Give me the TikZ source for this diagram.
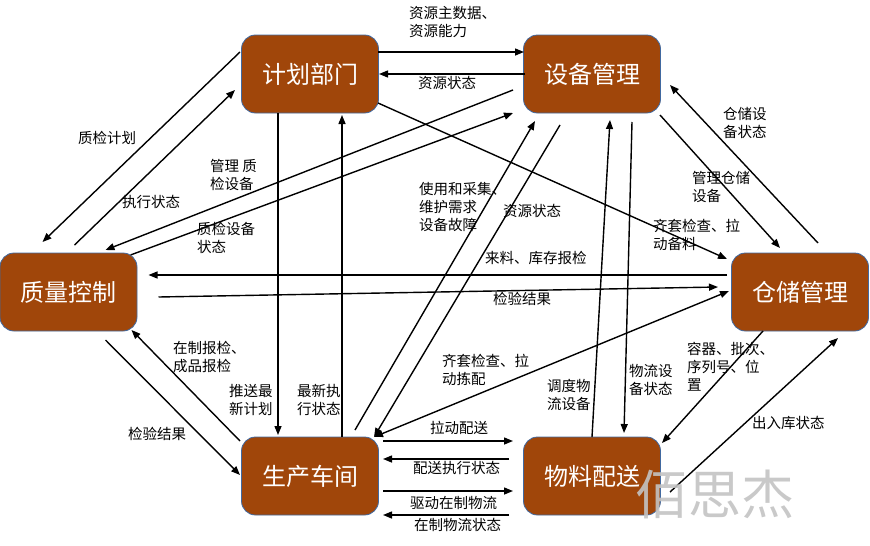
\documentclass[tikz,border=0pt]{standalone}
\usepackage{fontspec}
\setmainfont{Noto Sans CJK SC}
\usetikzlibrary{arrows.meta,calc}
\definecolor{boxfill}{RGB}{160,70,10}
\definecolor{boxline}{RGB}{65,105,160}
\definecolor{wmgray}{RGB}{195,195,195}
\begin{document}
\begin{tikzpicture}[x=1pt,y=-1pt,
  box/.style={draw=boxline, line width=0.8pt, fill=boxfill, rounded corners=14pt,
    minimum width=137pt, minimum height=78pt, inner sep=0pt, text=white,
    font=\fontsize{24}{28}\selectfont},
  lab/.style={anchor=north west, inner sep=0pt, align=left,
    font=\fontsize{14.5}{18}\selectfont},
  arr/.style={line width=1.4pt, -{Triangle[length=9pt,width=7pt]}},
  darr/.style={line width=1.4pt, {Triangle[length=9pt,width=7pt]}-{Triangle[length=9pt,width=7pt]}}]
\useasboundingbox (0,0) rectangle (870,546);

% boxes
\node[box] (plan)  at (310,74)   {计划部门};
\node[box] (equip) at (592,74)   {设备管理};
\node[box] (qc)    at (68.5,292) {质量控制};
\node[box] (wh)    at (800,292)  {仓储管理};
\node[box] (prod)  at (310,476)  {生产车间};
\node[box] (mat)   at (592,476)  {物料配送};

% connectors
\draw[arr] ($(plan)+(68,-22)$) -- ($(equip)+(-68,-22)$);
\draw[arr] ($(equip)+(-67,0)$) -- ($(plan)+(69,0)$);
\draw[arr] ($(plan)+(68,29)$) -- ($(wh)+(-73,-33)$);
\draw[arr] ($(qc)+(6,-47)$) -- ($(plan)+(-75,16)$);
\draw[arr] ($(plan)+(-70,-22)$) -- ($(qc)+(-26,-50)$);
\draw[arr] ($(equip)+(-79,16)$) -- ($(qc)+(37,-42)$);
\draw[arr] ($(qc)+(62,-37)$) -- ($(equip)+(-79,39)$);
\draw[arr] ($(wh)+(-73,-17)$) -- ($(qc)+(80,-17)$);
\draw[arr] ($(qc)+(90,5)$) -- ($(wh)+(-82,-5)$);
\draw[arr] ($(plan)+(-32,39)$) -- ($(prod)+(-32,-41)$);
\draw[arr] ($(prod)+(32,-39)$) -- ($(plan)+(32,41)$);
\draw[arr] ($(qc)+(37,48)$) -- ($(prod)+(-70,-1)$);
\draw[arr] ($(prod)+(-70,-35)$) -- ($(qc)+(63,38)$);
\draw[arr] ($(prod)+(45,-46)$) -- ($(equip)+(-57,47)$);
\draw[arr] ($(equip)+(-32,51)$) -- ($(prod)+(64,-39)$);
\draw[darr] ($(prod)+(64,-39)$) -- ($(wh)+(-71,-1)$);
\draw[arr] ($(equip)+(68,41)$) -- ($(wh)+(-20,-44)$);
\draw[arr] ($(wh)+(18,-49)$) -- ($(equip)+(78,11)$);
\draw[arr] ($(mat)+(0,-39)$) -- ($(equip)+(18,46)$);
\draw[arr] ($(equip)+(40,48)$) -- ($(mat)+(32,-43)$);
\draw[arr] ($(wh)+(-37,39)$) -- ($(mat)+(70,-33)$);
\draw[arr] ($(mat)+(78,16)$) -- ($(wh)+(38,46)$);
\draw[arr] ($(prod)+(73,-35)$) -- ($(mat)+(-79,-35)$);
\draw[arr] ($(mat)+(-83,-17)$) -- ($(prod)+(73,-17)$);
\draw[arr] ($(prod)+(73,15)$) -- ($(mat)+(-79,15)$);
\draw[arr] ($(mat)+(-83,39)$) -- ($(prod)+(73,39)$);

% labels
\node[lab] (l1)  at (409,6)   {资源主数据、\\资源能力};
\node[lab] (l2)  at (418,76)  {资源状态};
\node[lab] (l3)  at (653,219) {齐套检查、拉\\动备料};
\node[lab] (l4)  at (122,195) {执行状态};
\node[lab] (l5)  at (78,131)  {质检计划};
\node[lab] (l6)  at (210,159) {管理 质\\检设备};
\node[lab] (l7)  at (197,222) {质检设备\\状态};
\node[lab] (l8)  at (485,251) {来料、库存报检};
\node[lab] (l9)  at (493,292) {检验结果};
\node[lab] (l10) at (229,384) {推送最\\新计划};
\node[lab] (l11) at (297,384) {最新执\\行状态};
\node[lab] (l12) at (128,427) {检验结果};
\node[lab] (l13) at (173,341) {在制报检、\\成品报检};
\node[lab] (l14) at (419,182) {使用和采集、\\维护需求\\设备故障};
\node[lab] (l15) at (503,204) {资源状态};
\node[lab] (l16) at (442,354) {齐套检查、拉\\动拣配};
\node[lab] (l17) at (692,171) {管理仓储\\设备};
\node[lab] (l18) at (723,107) {仓储设\\备状态};
\node[lab] (l19) at (547,379) {调度物\\流设备};
\node[lab] (l20) at (629,364) {物流设\\备状态};
\node[lab] (l21) at (687,342) {容器、批次、\\序列号、位\\置};
\node[lab] (l22) at (752,416) {出入库状态};
\node[lab] (l23) at (430,421) {拉动配送};
\node[lab] (l24) at (413,461) {配送执行状态};
\node[lab] (l25) at (410,496) {驱动在制物流};
\node[lab] (l26) at (414,518) {在制物流状态};

% watermark
\node[inner sep=0pt, text=wmgray, opacity=0.9, font=\fontsize{53}{60}\selectfont] (wm) at (715,494) {佰思杰};
\end{tikzpicture}
\end{document}
